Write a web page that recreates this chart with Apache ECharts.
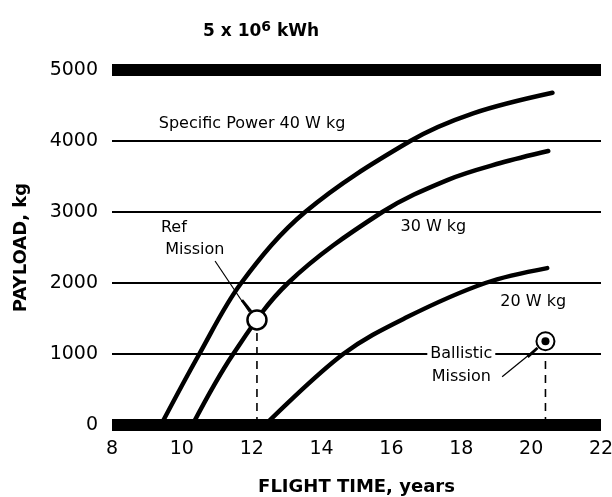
<!DOCTYPE html>
<html>
<head>
<meta charset="utf-8">
<script src="https://cdn.jsdelivr.net/npm/echarts@6/dist/echarts.min.js"></script>
<style>
  html, body { margin: 0; padding: 0; background: #fff; }
  #chart { width: 612px; height: 497px; }
</style>
</head>
<body>
<div id="chart"></div>
<script>
/* payload vs flight time, 5 x 10^6 kWh */
const xTicks = [8, 10, 12, 14, 16, 18, 20, 22];
const yTicks = [0, 1000, 2000, 3000, 4000, 5000];

// curves, [flight time, payload]
const power40 = [[9.4, 0], [10.5, 1000], [11.7, 2000], [13.53, 3000], [16.54, 4000], [18.34, 4390], [20.61, 4680]];
const power30 = [[10.3, 0], [11.47, 1000], [13.04, 2000], [15.74, 3000], [17.6, 3450], [19.12, 3690], [20.49, 3860]];
const power20 = [[12.38, 0], [14.62, 1000], [16.45, 1520], [18.69, 2000], [20.46, 2210]];

const refMission = [12.15, 1480];
const ballisticMission = [20.41, 1180];
const refDrop = [[12.15, 0], [12.15, 1350]];
const ballisticDrop = [[20.41, 0], [20.41, 980]];
const refLeader = [[10.95, 2310], [11.93, 1592]];
const refLeaderTip = [[11.72, 1760], [11.98, 1600]];
const ballisticLeader = [[19.17, 680], [20.18, 1085]];
const ballisticLeaderTip = [[19.9, 960], [20.18, 1085]];

// annotation texts anchored in data units
const notes = [
  { name: 'Specific Power 40 W kg', value: [12.01, 4240] },
  { name: '30 W kg', value: [17.2, 2790] },
  { name: '20 W kg', value: [20.06, 1730] },
  { name: 'Ref', value: [9.77, 2770] },
  { name: 'Mission', value: [10.37, 2460] },
  { name: 'Ballistic', value: [18.0, 1000] },
  { name: 'Mission', value: [18.0, 680] }
];

const FONT = 'DejaVu Sans';

function curve(data) {
  return {
    type: 'line', data: data, smooth: 0.35,
    symbol: 'none', silent: true,
    lineStyle: { color: '#000', width: 4.5, cap: 'round' }, z: 3
  };
}

function thin(data, dashed, width) {
  return {
    type: 'line', data: data, symbol: 'none', silent: true,
    lineStyle: { color: '#000', width: width || 1.3, type: dashed ? [8, 6] : 'solid' }, z: 2
  };
}

const chart = echarts.init(document.getElementById('chart'), null, { renderer: 'canvas' });

chart.setOption({
  animation: false,
  backgroundColor: '#fff',
  title: {
    text: '{a|5 x 10}{s|6}{a| kWh}',
    left: 198, top: 15,
    textStyle: {
      rich: {
        a: { fontFamily: FONT, fontSize: 17, fontWeight: 'bold', color: '#000' },
        s: { fontFamily: FONT, fontSize: 14, fontWeight: 'bold', color: '#000', verticalAlign: 'top', padding: [0, 0, 10, 0] }
      }
    }
  },
  grid: { left: 112, right: 11, top: 70, bottom: 72, outerBoundsMode: 'none' },
  xAxis: {
    type: 'value', min: 8, max: 22, interval: 2,
    name: 'FLIGHT TIME, years', nameLocation: 'middle', nameGap: 53,
    nameTextStyle: { fontFamily: FONT, fontSize: 18, fontWeight: 'bold', color: '#000' },
    axisLine: { show: false }, axisTick: { show: false }, splitLine: { show: false },
    axisLabel: { fontFamily: FONT, fontSize: 19, color: '#000', margin: 15 }
  },
  yAxis: {
    type: 'value', min: 0, max: 5000, interval: 1000,
    name: 'PAYLOAD, kg', nameLocation: 'middle', nameGap: 82, nameRotate: 90,
    nameTextStyle: { fontFamily: FONT, fontSize: 18, fontWeight: 'bold', color: '#000' },
    axisLine: { show: false }, axisTick: { show: false },
    splitLine: { lineStyle: { color: '#000', width: 2 } },
    axisLabel: { fontFamily: FONT, fontSize: 19, color: '#000', margin: 14, formatter: v => String(v) }
  },
  series: [
    {
      type: 'line', data: [], silent: true,
      markLine: {
        silent: true, symbol: 'none', label: { show: false },
        lineStyle: { color: '#000', width: 12, type: 'solid' },
        data: [{ yAxis: yTicks[0] }, { yAxis: yTicks[yTicks.length - 1] }]
      }
    },
    curve(power40),
    curve(power30),
    curve(power20),
    thin(refDrop, true, 1.6),
    thin(ballisticDrop, true, 1.6),
    thin(refLeader, false, 1.2),
    thin(refLeaderTip, false, 2.8),
    thin(ballisticLeader, false, 1.2),
    thin(ballisticLeaderTip, false, 2.8),
    {
      type: 'scatter', data: [refMission], symbol: 'circle', symbolSize: 19, silent: true,
      itemStyle: { color: '#fff', borderColor: '#000', borderWidth: 2.5, opacity: 1 }, z: 5
    },
    {
      type: 'scatter', data: [ballisticMission], symbol: 'circle', symbolSize: 18, silent: true,
      itemStyle: { color: '#fff', borderColor: '#000', borderWidth: 2, opacity: 1 }, z: 5
    },
    {
      type: 'scatter', data: [ballisticMission], symbol: 'circle', symbolSize: 8, silent: true,
      itemStyle: { color: '#000', opacity: 1 }, z: 6
    },
    {
      type: 'scatter', data: notes, symbolSize: 0, silent: true, z: 7,
      itemStyle: { opacity: 1 },
      label: {
        show: true, position: 'inside', formatter: '{b}',
        fontFamily: FONT, fontSize: 16, color: '#000',
        backgroundColor: '#fff', padding: [0, 3]
      }
    }
  ]
});
</script>
</body>
</html>
